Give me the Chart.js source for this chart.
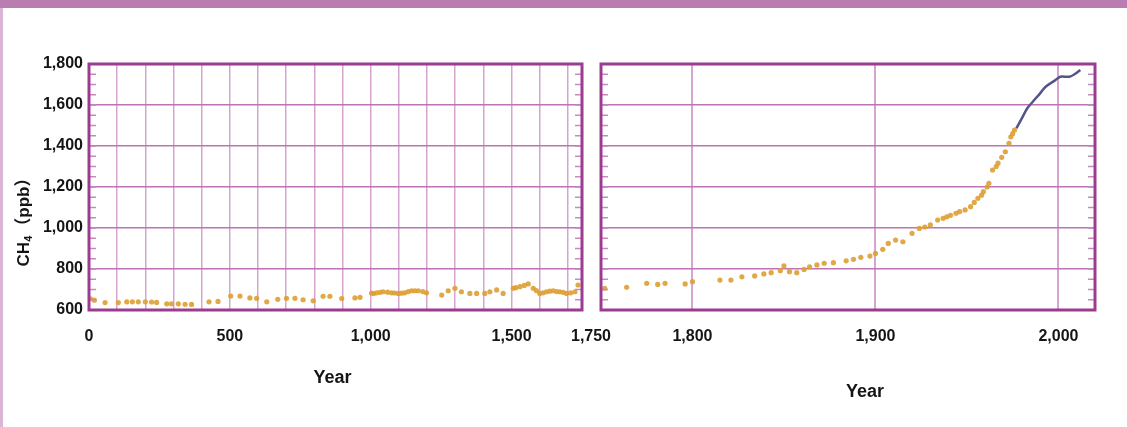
<!DOCTYPE html>
<html>
<head>
<meta charset="utf-8">
<script src="https://cdn.jsdelivr.net/npm/chart.js@4.4.1/dist/chart.umd.min.js"></script>
<style>
  html, body { margin: 0; padding: 0; background: #fff; }
  #wrap { position: relative; width: 1127px; height: 427px; overflow: hidden; }
  #topBar { position: absolute; left: 0; top: 0; width: 1127px; height: 8px; background: #b97db2; }
  #edge { position: absolute; left: 0; top: 8px; width: 3px; height: 419px; background: #dab5d6; }
  canvas { position: absolute; left: 0; top: 0; }
</style>
</head>
<body>
<div id="wrap">
  <div id="topBar"></div>
  <div id="edge"></div>
  <canvas id="early" width="1127" height="427"></canvas>
  <canvas id="modern" width="1127" height="427"></canvas>
</div>
<script>
// ice core CH4, year 0 - 1750
var earlyYears = [5, 19, 57, 104, 134, 154, 175, 200, 222, 240, 276, 293, 317, 341, 364, 426, 458, 503, 536, 571, 595, 631, 670, 701, 731, 760, 796, 831, 855, 897, 944, 962, 1003, 1010, 1021, 1033, 1044, 1060, 1074, 1085, 1098, 1110, 1121, 1133, 1145, 1157, 1169, 1185, 1198, 1252, 1275, 1299, 1322, 1352, 1376, 1405, 1423, 1447, 1470, 1506, 1515, 1530, 1545, 1559, 1577, 1588, 1600, 1612, 1624, 1636, 1648, 1660, 1671, 1683, 1695, 1710, 1725, 1736]
var earlyCh4 = [655, 648, 636, 636, 640, 640, 640, 640, 639, 637, 630, 630, 630, 628, 627, 640, 642, 668, 668, 659, 657, 640, 652, 657, 657, 650, 645, 667, 667, 656, 659, 662, 683, 680, 684, 686, 689, 687, 684, 683, 681, 682, 684, 690, 694, 694, 694, 690, 684, 673, 694, 706, 689, 681, 681, 681, 689, 698, 681, 706, 709, 714, 720, 727, 706, 695, 681, 684, 689, 692, 694, 690, 689, 686, 681, 684, 689, 722]
// 1750 - 1976 ice core / firn
var modernYears = [1752, 1764, 1775, 1781, 1785, 1796, 1800, 1815, 1821, 1827, 1834, 1839, 1843, 1848, 1850, 1853, 1857, 1861, 1864, 1868, 1872, 1877, 1884, 1888, 1892, 1897, 1900, 1904, 1907, 1911, 1915, 1920, 1924, 1927, 1930, 1934, 1937, 1939, 1941, 1944, 1946, 1949, 1952, 1954, 1956, 1958, 1959, 1961, 1962, 1964, 1966, 1967, 1969, 1971, 1973, 1974, 1975, 1976]
var modernCh4 = [706, 711, 730, 725, 730, 727, 738, 746, 746, 762, 766, 776, 782, 792, 815, 787, 782, 798, 811, 820, 828, 831, 840, 847, 857, 863, 876, 896, 925, 941, 933, 974, 998, 1005, 1015, 1039, 1047, 1055, 1062, 1072, 1080, 1088, 1104, 1125, 1145, 1160, 1177, 1200, 1218, 1283, 1300, 1316, 1345, 1372, 1413, 1445, 1460, 1478]
// atmospheric measurements
var recentYears = [1977, 1980, 1983, 1986, 1990, 1993, 1998, 2001, 2006, 2009, 2012]
var recentCh4 = [1486, 1535, 1584, 1616, 1657, 1689, 1719, 1738, 1738, 1751, 1771]

var earlyTicks = [0, 100, 200, 300, 400, 500, 600, 700, 800, 900, 1000, 1100, 1200, 1300, 1400, 1500, 1600, 1700]
var modernTicks = [1800, 1900, 2000]
var ch4Ticks = [600, 800, 1000, 1200, 1400, 1600, 1800]

var FONT = "'Liberation Sans', Arial, sans-serif"
var textColor = '#151515'
var dotColor = 'rgba(222,158,50,0.9)'

function pairs(xs, ys) {
    return xs.map(function (x, i) { return { x: x, y: ys[i] } })
}
function fmt(v) { return v.toLocaleString('en-US') }
function setTicks(list) {
    return function (scale) { scale.ticks = list.map(function (v) { return { value: v } }) }
}

// box round the plot plus the short inner ticks every 50 ppb
var framePlugin = {
    id: 'frame',
    afterDraw: function (chart) {
        var ctx = chart.ctx, a = chart.chartArea, y = chart.scales.y
        ctx.save()
        ctx.strokeStyle = '#c58bbd'
        ctx.lineWidth = 1.5
        for (var v = 600; v <= 1800; v += 50) {
            var py = y.getPixelForValue(v)
            ctx.beginPath()
            ctx.moveTo(a.left, py); ctx.lineTo(a.left + 7, py)
            ctx.moveTo(a.right - 7, py); ctx.lineTo(a.right, py)
            ctx.stroke()
        }
        ctx.strokeStyle = '#9c3c91'
        ctx.lineWidth = 3
        ctx.strokeRect(a.left, a.top, a.right - a.left, a.bottom - a.top)
        ctx.restore()
    }
}

function baseOptions(pad) {
    return {
        responsive: false,
        animation: false,
        events: [],
        layout: { padding: pad },
        plugins: { legend: { display: false }, tooltip: { enabled: false } },
        scales: {}
    }
}

// left panel
var earlyOpts = baseOptions({ left: 0, right: 545, top: 64, bottom: 0 })
earlyOpts.scales = {
    x: {
        type: 'linear', min: 0, max: 1750,
        afterBuildTicks: setTicks(earlyTicks),
        afterFit: function (s) { s.height = 117 },
        grid: { color: '#d6a5cf', lineWidth: 1.5, drawTicks: false },
        border: { display: false },
        ticks: {
            autoSkip: false, maxRotation: 0, padding: 17, color: textColor,
            font: { family: FONT, size: 16, weight: 'bold' },
            callback: function (v) { return v % 500 === 0 ? fmt(v) : '' }
        }
    },
    y: {
        min: 600, max: 1800,
        afterBuildTicks: setTicks(ch4Ticks),
        afterFit: function (s) { s.width = 89 },
        grid: { color: '#bd73b4', lineWidth: 1.5, drawTicks: false },
        border: { display: false },
        ticks: {
            padding: 6, color: textColor,
            font: { family: FONT, size: 16, weight: 'bold' },
            callback: function (v) { return fmt(v) }
        }
    }
}

new Chart(document.getElementById('early'), {
    type: 'scatter',
    data: {
        datasets: [{
            data: pairs(earlyYears, earlyCh4),
            backgroundColor: dotColor,
            pointRadius: 2.6,
            pointBorderWidth: 0
        }]
    },
    options: earlyOpts,
    plugins: [framePlugin, {
        id: 'earlyText',
        afterDraw: function (chart) {
            var ctx = chart.ctx, a = chart.chartArea
            ctx.save()
            ctx.fillStyle = textColor
            ctx.textAlign = 'center'
            ctx.textBaseline = 'middle'
            ctx.font = 'bold 16px ' + FONT
            ctx.fillText('1,750', a.right + 9, 337)
            ctx.font = 'bold 18px ' + FONT
            ctx.fillText('Year', (a.left + a.right) / 2 - 3, 378)

            // CH4 (ppb) with a real subscript
            ctx.translate(24, 218)
            ctx.rotate(-Math.PI / 2)
            var big = 'bold 17px ' + FONT + ", 'Noto Sans CJK SC'"
            var small = 'bold 11px ' + FONT
            ctx.font = big
            var w1 = ctx.measureText('CH').width
            var w3 = ctx.measureText('（ppb）').width
            ctx.font = small
            var w2 = ctx.measureText('4').width + 1
            var x0 = -(w1 + w2 + w3) / 2
            ctx.textAlign = 'left'
            ctx.font = big
            ctx.fillText('CH', x0, 0)
            ctx.font = small
            ctx.fillText('4', x0 + w1, 5)
            ctx.font = big
            ctx.fillText('（ppb）', x0 + w1 + w2, 0)
            ctx.restore()
        }
    }]
})

// right panel
var modernOpts = baseOptions({ left: 601, right: 32, top: 64, bottom: 0 })
modernOpts.scales = {
    x: {
        type: 'linear', min: 1750, max: 2020,
        afterBuildTicks: setTicks(modernTicks),
        afterFit: function (s) { s.height = 117 },
        grid: { color: '#d6a5cf', lineWidth: 2, drawTicks: false },
        border: { display: false },
        ticks: {
            autoSkip: false, maxRotation: 0, padding: 17, color: textColor,
            font: { family: FONT, size: 16, weight: 'bold' },
            callback: function (v) { return fmt(v) }
        }
    },
    y: {
        min: 600, max: 1800,
        afterBuildTicks: setTicks(ch4Ticks),
        afterFit: function (s) { s.width = 0 },
        grid: { color: '#bd73b4', lineWidth: 1.5, drawTicks: false },
        border: { display: false },
        ticks: { display: false }
    }
}

new Chart(document.getElementById('modern'), {
    type: 'scatter',
    data: {
        datasets: [{
            data: pairs(modernYears, modernCh4),
            backgroundColor: dotColor,
            pointRadius: 2.6,
            pointBorderWidth: 0
        }, {
            data: pairs(recentYears, recentCh4),
            showLine: true,
            borderColor: '#545489',
            borderWidth: 2.5,
            tension: 0.3,
            pointRadius: 0
        }]
    },
    options: modernOpts,
    plugins: [framePlugin, {
        id: 'modernText',
        afterDraw: function (chart) {
            var ctx = chart.ctx, a = chart.chartArea
            ctx.save()
            ctx.fillStyle = textColor
            ctx.textAlign = 'center'
            ctx.textBaseline = 'middle'
            ctx.font = 'bold 18px ' + FONT
            ctx.fillText('Year', (a.left + a.right) / 2 + 17, 392)
            ctx.restore()
        }
    }]
})
</script>
</body>
</html>
